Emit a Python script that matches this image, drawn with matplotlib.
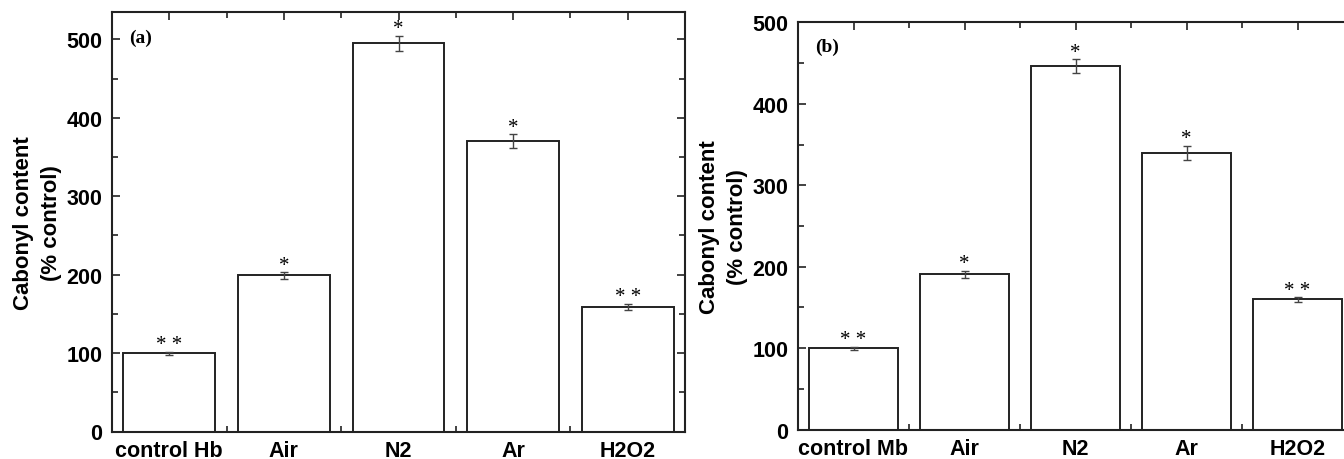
import numpy as np
import matplotlib
matplotlib.use('Agg')
import matplotlib.pyplot as plt
from matplotlib.ticker import MultipleLocator, FixedLocator

plt.rcParams.update({'font.family': 'Liberation Sans', 'font.weight': 'bold'})

#==============================================================================
# Data
#==============================================================================
labels_hb = ['control Hb', 'Air', 'N2', 'Ar', 'H2O2']
carbonyl_hb = [100, 199, 495, 370, 159]
err_hb = [2, 4, 10, 9, 4]
stars_hb = ['* *', '*', '*', '*', '* *']

labels_mb = ['control Mb', 'Air', 'N2', 'Ar', 'H2O2']
carbonyl_mb = [100, 191, 446, 340, 160]
err_mb = [2, 4.3, 8.6, 8.6, 3]
stars_mb = ['* *', '*', '*', '*', '* *']

W, H = 1344, 460
fig = plt.figure(figsize=(W / 100, H / 100), dpi=100)


def px_axes(left, right, top, bottom):
    return fig.add_axes([left / W, (H - bottom) / H,
                         (right - left) / W, (bottom - top) / H])


def draw_panel(ax, labels, vals, errs, stars, ymax, tag):
    x = np.arange(len(labels))
    ax.bar(x, vals, width=0.8, color='white', edgecolor='#222222',
           linewidth=1.4, zorder=2)
    ax.errorbar(x, vals, yerr=errs, fmt='none', ecolor='#444444',
                elinewidth=1.0, capsize=3, capthick=1.0, zorder=3)
    for xi, v, e, s in zip(x, vals, errs, stars):
        ax.annotate(s, (xi, v + e), xytext=(0, -2), textcoords='offset points',
                    ha='center', va='bottom', fontsize=15,
                    family='Liberation Serif', fontweight='normal')
    ax.set_xlim(-0.5, len(labels) - 0.5)
    ax.set_ylim(0, ymax)
    ax.set_xticks(x)
    ax.set_xticklabels(labels)
    ax.xaxis.set_minor_locator(FixedLocator(x[:-1] + 0.5))
    ax.yaxis.set_major_locator(MultipleLocator(100))
    ax.yaxis.set_minor_locator(MultipleLocator(50))
    ax.tick_params(which='both', direction='in', top=True, right=True,
                   width=1.2, color='#222222')
    ax.tick_params(which='major', length=6, labelsize=15.5)
    ax.tick_params(axis='x', which='major', pad=6)
    ax.tick_params(axis='y', which='major', pad=7)
    ax.tick_params(which='minor', length=4)
    for sp in ax.spines.values():
        sp.set_linewidth(1.5)
        sp.set_color('#222222')
    ax.set_ylabel('Cabonyl content\n(% control)', fontsize=16,
                  fontweight='bold', labelpad=3, linespacing=1.45)
    ax.text(0.03, 0.94, tag, transform=ax.transAxes, ha='left', va='center',
            fontsize=14, family='Liberation Serif', fontweight='bold')


ax_a = px_axes(112, 685, 13, 432.5)
draw_panel(ax_a, labels_hb, carbonyl_hb, err_hb, stars_hb, 535, '(a)')

# second panel runs past the right edge of the figure
ax_b = px_axes(798, 1353, 23.3, 430.7)
draw_panel(ax_b, labels_mb, carbonyl_mb, err_mb, stars_mb, 500, '(b)')

fig.savefig('out.png', dpi=100)
